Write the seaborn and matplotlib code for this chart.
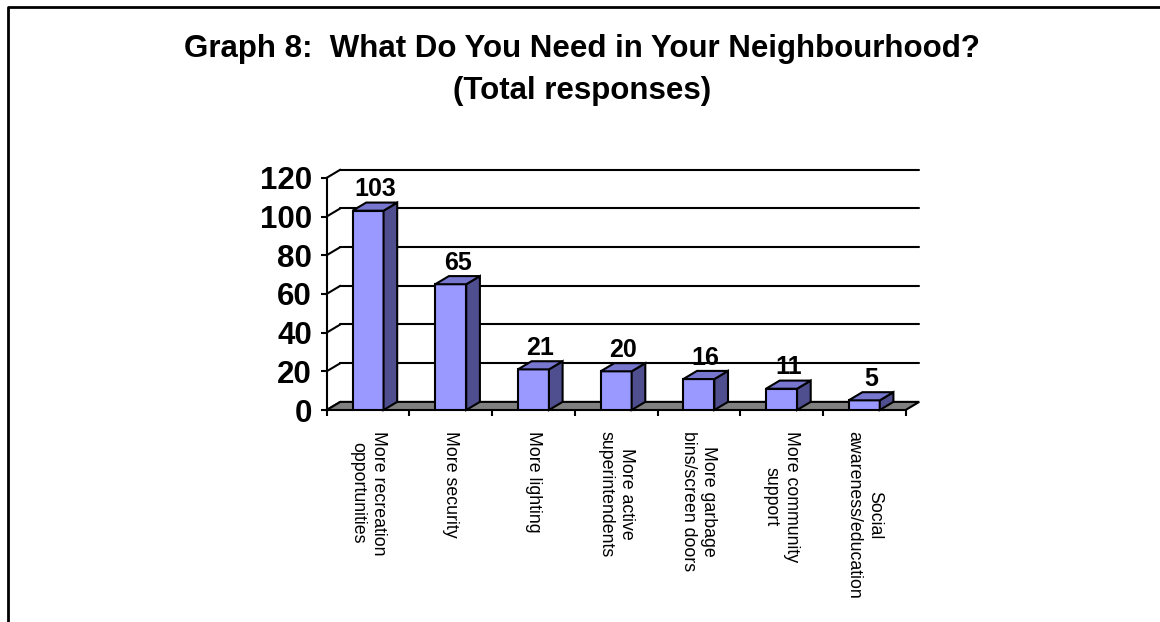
import matplotlib
matplotlib.use("Agg")
import matplotlib.pyplot as plt
from matplotlib.patches import Polygon
from matplotlib.lines import Line2D
import seaborn as sns

categories = ["More recreation\nopportunities", "More security", "More lighting",
              "More active\nsuperintendents", "More garbage\nbins/screen doors",
              "More community\nsupport", "Social\nawareness/education"]
values = [103, 65, 21, 20, 16, 11, 5]
yticks = [0, 20, 40, 60, 80, 100, 120]
title = "Graph 8:  What Do You Need in Your Neighbourhood?\n(Total responses)"

sns.set_style("white")
plt.rcParams['font.family'] = ['Liberation Sans', 'DejaVu Sans']
plt.rcParams['text.color'] = 'black'
plt.rcParams['xtick.color'] = 'black'
plt.rcParams['ytick.color'] = 'black'
plt.rcParams['xtick.labelcolor'] = 'black'
plt.rcParams['ytick.labelcolor'] = 'black'

W, H = 1160, 622
fig = plt.figure(figsize=(W / 100, H / 100), dpi=100)
DX, DY = 0.165, 4.2  # 3D depth offset in data units
n = len(categories)
ax = fig.add_axes([326.7 / W, (H - 410) / H, (n + DX) * 82.7 / W, (120 + DY) * 1.935 / H])

FRONT = "#9999FF"
SIDE = "#4F4F8F"
TOP = "#7777D0"
LW = 1.5

sns.barplot(x=categories, y=values, color=FRONT, width=0.375, edgecolor="black",
            linewidth=LW, ax=ax, zorder=4, saturation=1)

ax.set_xlim(-0.5, n - 0.5 + DX)
ax.set_ylim(0, 120 + DY)

# floor
floor = Polygon([(-0.5, 0), (n - 0.5, 0), (n - 0.5 + DX, DY), (-0.5 + DX, DY)],
                closed=True, facecolor="#808080", edgecolor="black", lw=LW,
                zorder=2, clip_on=False)
ax.add_patch(floor)

# back wall gridlines + connectors
for v in yticks:
    ax.plot([-0.5, -0.5 + DX], [v, v + DY], color="black", lw=LW, zorder=1, clip_on=False)
    if v > 0:
        ax.plot([-0.5 + DX, n - 0.5 + DX], [v + DY, v + DY], color="black", lw=LW,
                zorder=1, clip_on=False)

# 3D faces of bars
for p in list(ax.patches):
    if p is floor:
        continue
    x, w, h = p.get_x(), p.get_width(), p.get_height()
    side = Polygon([(x + w, 0), (x + w + DX, DY), (x + w + DX, h + DY), (x + w, h)],
                   closed=True, facecolor=SIDE, edgecolor="black", lw=LW, zorder=4,
                   clip_on=False)
    top = Polygon([(x, h), (x + w, h), (x + w + DX, h + DY), (x + DX, h + DY)],
                  closed=True, facecolor=TOP, edgecolor="black", lw=LW, zorder=4,
                  clip_on=False)
    ax.add_patch(side)
    ax.add_patch(top)
    ax.text(x + w / 2 + DX / 2, h + 11, f"{int(h)}", ha="center", va="center",
            fontsize=18, fontweight="bold", zorder=6, color="black")

for s in ["top", "right", "bottom"]:
    ax.spines[s].set_visible(False)
ax.spines["left"].set_bounds(0, 120)
ax.spines["left"].set_linewidth(LW)
ax.spines["left"].set_color("black")
ax.spines["left"].set_zorder(5)

ax.set_yticks(yticks)
ax.set_yticklabels([str(v) for v in yticks], fontsize=22.5, fontweight="bold")
ax.tick_params(axis="y", direction="out", length=4.5, width=LW, pad=6, left=True)

ax.set_xticks(range(n))
ax.set_xticklabels(categories, rotation=270, fontsize=12.8, ha="center", va="top",
                   multialignment="center", linespacing=1.25)
ax.tick_params(axis="x", which="major", length=0, pad=15)
ax.set_xticks([i - 0.5 for i in range(n + 1)], minor=True)
ax.tick_params(axis="x", which="minor", direction="out", length=4.5, width=LW, bottom=True)
ax.set_xlabel("")
ax.set_ylabel("")
ax.grid(False)
ax.patch.set_alpha(0)

fig.text(582 / W, 1 - 34 / H, title, ha="center", va="top", fontsize=22.5,
         fontweight="bold", linespacing=1.5, multialignment="center", color="black")

fig.add_artist(Line2D([8 / W, 8 / W, 1], [0, 1 - 7 / H, 1 - 7 / H],
                      transform=fig.transFigure, color="black", lw=2))

fig.savefig("out.png", dpi=100, facecolor="white")
